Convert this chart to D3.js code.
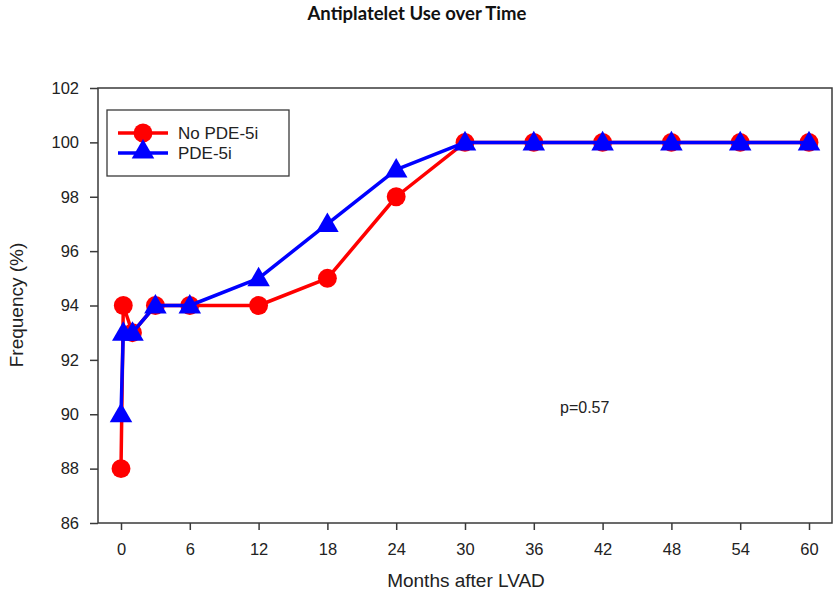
<!DOCTYPE html>
<html>
<head>
<meta charset="utf-8">
<script src="https://cdn.jsdelivr.net/npm/d3@7"></script>
<style>
body{margin:0;background:#fff;}
svg{display:block;}
</style>
</head>
<body>
<script>
const months = [0, 0.2, 1, 3, 6, 12, 18, 24, 30, 36, 42, 48, 54, 60];
const noPde5i = [88, 94, 93, 94, 94, 94, 95, 98, 100, 100, 100, 100, 100, 100];
const pde5i   = [90, 93, 93, 94, 94, 95, 97, 99, 100, 100, 100, 100, 100, 100];
const xTicks = [0, 6, 12, 18, 24, 30, 36, 42, 48, 54, 60];
const yTicks = [86, 88, 90, 92, 94, 96, 98, 100, 102];
const seriesNames = ["No PDE-5i", "PDE-5i"];
const seriesColors = ["#ff0000", "#0000ff"];

const W = 834, H = 599;
const box = {left: 98, right: 832, top: 88, bottom: 523};
const svg = d3.select("body").append("svg").attr("width", W).attr("height", H);

const x = d3.scaleLinear().domain([0, 60]).range([121, 809]);
const y = d3.scaleLinear().domain([86, 102]).range([box.bottom, box.top]);

const axisColor = "#3a3a3a";
const font = "'Liberation Sans', Arial, sans-serif";

// title
svg.append("text").attr("x", 417).attr("y", 20).attr("text-anchor", "middle")
  .attr("font-family", "Lato, 'Open Sans', sans-serif").attr("font-weight", "bold")
  .attr("font-size", 18.5).attr("fill", "#111").text("Antiplatelet Use over Time");

// frame
svg.append("rect").attr("x", box.left).attr("y", box.top)
  .attr("width", box.right - box.left).attr("height", box.bottom - box.top)
  .attr("fill", "none").attr("stroke", axisColor).attr("stroke-width", 1.5);

// y axis
const yAxis = d3.axisLeft(y).tickValues(yTicks).tickSize(8).tickPadding(11).tickFormat(d3.format("d"));
const gy = svg.append("g").attr("transform", `translate(${box.left},0)`).call(yAxis);
gy.select(".domain").remove();
gy.selectAll("line").attr("stroke", axisColor).attr("stroke-width", 1.5);
gy.selectAll("text").attr("font-family", font).attr("font-size", 16.5).attr("fill", "#222");

// x axis
const xAxis = d3.axisBottom(x).tickValues(xTicks).tickSize(7).tickPadding(13).tickFormat(d3.format("d"));
const gx = svg.append("g").attr("transform", `translate(0,${box.bottom})`).call(xAxis);
gx.select(".domain").remove();
gx.selectAll("line").attr("stroke", axisColor).attr("stroke-width", 1.5);
gx.selectAll("text").attr("font-family", font).attr("font-size", 16.5).attr("fill", "#222");

// axis titles
svg.append("text").attr("x", 466).attr("y", 587).attr("text-anchor", "middle")
  .attr("font-family", font).attr("font-size", 19).attr("fill", "#222").text("Months after LVAD");
svg.append("text").attr("transform", "translate(23,305) rotate(-90)").attr("text-anchor", "middle")
  .attr("font-family", font).attr("font-size", 19).attr("fill", "#222").text("Frequency (%)");

// series
const line = d3.line().x(d => x(d[0])).y(d => y(d[1]));
const datasets = [noPde5i, pde5i].map(vals => months.map((m, i) => [m, vals[i]]));
const circleSym = d3.symbol().type(d3.symbolCircle).size(280);
const triSym = d3.symbol().type(d3.symbolTriangle).size(220);
const syms = [circleSym, triSym];

datasets.forEach((data, k) => {
  svg.append("path").datum(data).attr("d", line).attr("fill", "none")
    .attr("stroke", seriesColors[k]).attr("stroke-width", 3.5).attr("stroke-linejoin", "round");
  svg.append("g").selectAll("path").data(data).join("path")
    .attr("transform", d => `translate(${x(d[0])},${y(d[1]) + (k === 1 ? 1.5 : 0)})`)
    .attr("d", syms[k]()).attr("fill", seriesColors[k]);
});

// legend
const lg = svg.append("g");
lg.append("rect").attr("x", 107).attr("y", 110).attr("width", 182).attr("height", 66)
  .attr("fill", "#fff").attr("stroke", axisColor).attr("stroke-width", 1.3);
seriesNames.forEach((name, k) => {
  const ly = 133 + k * 20;
  lg.append("line").attr("x1", 118).attr("x2", 168).attr("y1", ly).attr("y2", ly)
    .attr("stroke", seriesColors[k]).attr("stroke-width", 3.5);
  lg.append("path").attr("transform", `translate(143,${ly + (k === 1 ? -1 : 0)})`)
    .attr("d", syms[k]()).attr("fill", seriesColors[k]);
  lg.append("text").attr("x", 178).attr("y", ly + 6).attr("font-family", font)
    .attr("font-size", 17).attr("fill", "#222").text(name);
});

// p-value
svg.append("text").attr("x", 560).attr("y", 413).attr("font-family", font)
  .attr("font-size", 16).attr("fill", "#222").text("p=0.57");
</script>
</body>
</html>
